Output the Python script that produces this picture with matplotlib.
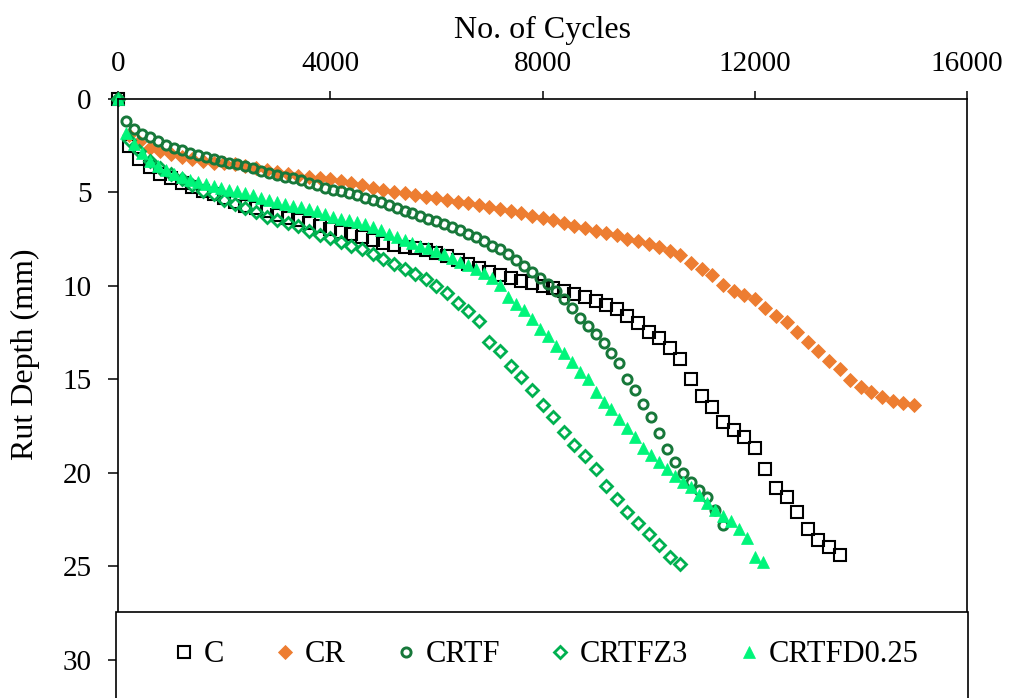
import matplotlib
matplotlib.use("Agg")
import matplotlib.pyplot as plt
from matplotlib.patches import Rectangle

plt.rcParams['font.family'] = ['Liberation Serif', 'DejaVu Serif']

# ---------------- data ----------------
series_names = ["C", "CR", "CRTF", "CRTFZ3", "CRTFD0.25"]

cycles_c = [0, 200, 400, 600, 800, 1000, 1200, 1400, 1600, 1800, 2000, 2200, 2400, 2600, 2800,
            3000, 3200, 3400, 3600, 3800, 4000, 4200, 4400, 4600, 4800, 5000, 5200, 5400, 5600,
            5800, 6000, 6200, 6400, 6600, 6800, 7000, 7200, 7400, 7600, 7800, 8000, 8200, 8400,
            8600, 8800, 9000, 9200, 9400, 9600, 9800, 10000, 10200, 10400, 10600, 10800, 11000,
            11200, 11400, 11600, 11800, 12000, 12200, 12400, 12600, 12800, 13000, 13200, 13400, 13600]
rut_c = [0, 2.5, 3.2, 3.65, 4.0, 4.25, 4.5, 4.7, 4.9, 5.1, 5.3, 5.5, 5.7, 5.85, 6.0,
         6.2, 6.35, 6.5, 6.65, 6.8, 6.95, 7.1, 7.25, 7.4, 7.55, 7.7, 7.8, 7.9, 8.0,
         8.1, 8.25, 8.4, 8.6, 8.85, 9.05, 9.25, 9.4, 9.6, 9.75, 9.85, 10.0, 10.1, 10.3,
         10.45, 10.6, 10.8, 11.0, 11.25, 11.6, 12.0, 12.45, 12.8, 13.3, 13.9, 15.0, 15.9,
         16.5, 17.3, 17.7, 18.1, 18.7, 19.8, 20.8, 21.3, 22.1, 23.0, 23.6, 24.0, 24.4]

cycles_cr = [0, 200, 400, 600, 800, 1000, 1200, 1400, 1600, 1800, 2000, 2200, 2400, 2600, 2800,
             3000, 3200, 3400, 3600, 3800, 4000, 4200, 4400, 4600, 4800, 5000, 5200, 5400, 5600,
             5800, 6000, 6200, 6400, 6600, 6800, 7000, 7200, 7400, 7600, 7800, 8000, 8200, 8400,
             8600, 8800, 9000, 9200, 9400, 9600, 9800, 10000, 10200, 10400, 10600, 10800, 11000,
             11200, 11400, 11600, 11800, 12000, 12200, 12400, 12600, 12800, 13000, 13200, 13400,
             13600, 13800, 14000, 14200, 14400, 14600, 14800, 15000]
rut_cr = [0, 1.9, 2.3, 2.6, 2.8, 2.95, 3.1, 3.2, 3.3, 3.4, 3.45, 3.5, 3.6, 3.7, 3.8,
          3.9, 4.0, 4.1, 4.15, 4.25, 4.3, 4.4, 4.5, 4.6, 4.75, 4.87, 4.97, 5.03, 5.13,
          5.24, 5.3, 5.4, 5.5, 5.56, 5.67, 5.78, 5.88, 5.99, 6.1, 6.25, 6.35, 6.5, 6.65,
          6.8, 6.9, 7.05, 7.15, 7.3, 7.5, 7.6, 7.75, 7.9, 8.15, 8.35, 8.75, 9.1,
          9.4, 9.95, 10.25, 10.5, 10.7, 11.2, 11.6, 11.95, 12.45, 13.0, 13.5, 14.0,
          14.45, 15.05, 15.4, 15.7, 15.95, 16.15, 16.25, 16.35]

cycles_crtf = [0, 150, 300, 450, 600, 750, 900, 1050, 1200, 1350, 1500, 1650, 1800, 1950, 2100,
               2250, 2400, 2550, 2700, 2850, 3000, 3150, 3300, 3450, 3600, 3750, 3900, 4050,
               4200, 4350, 4500, 4650, 4800, 4950, 5100, 5250, 5400, 5550, 5700, 5850, 6000,
               6150, 6300, 6450, 6600, 6750, 6900, 7050, 7200, 7350, 7500, 7650, 7800, 7950,
               8100, 8250, 8400, 8550, 8700, 8850, 9000, 9150, 9300, 9450, 9600, 9750, 9900,
               10050, 10200, 10350, 10500, 10650, 10800, 10950, 11100, 11250, 11400]
rut_crtf = [0, 1.2, 1.6, 1.85, 2.05, 2.25, 2.45, 2.6, 2.75, 2.9, 3.0, 3.1, 3.2, 3.3, 3.4,
            3.5, 3.6, 3.7, 3.85, 3.95, 4.05, 4.15, 4.25, 4.35, 4.5, 4.6, 4.75, 4.85,
            4.95, 5.05, 5.15, 5.3, 5.4, 5.5, 5.65, 5.85, 6.0, 6.1, 6.25, 6.4, 6.55,
            6.7, 6.85, 7.0, 7.2, 7.4, 7.6, 7.85, 8.05, 8.3, 8.6, 8.95, 9.25, 9.6,
            9.9, 10.25, 10.7, 11.2, 11.7, 12.15, 12.55, 13.05, 13.6, 14.15, 15.0, 15.6, 16.3,
            17.0, 17.9, 18.75, 19.4, 20.0, 20.5, 20.9, 21.3, 22.0, 22.8]

cycles_crtfz3 = [0, 200, 400, 600, 800, 1000, 1200, 1400, 1600, 1800, 2000, 2200, 2400, 2600,
                 2800, 3000, 3200, 3400, 3600, 3800, 4000, 4200, 4400, 4600, 4800, 5000, 5200,
                 5400, 5600, 5800, 6000, 6200, 6400, 6600, 6800, 7000, 7200, 7400, 7600, 7800,
                 8000, 8200, 8400, 8600, 8800, 9000, 9200, 9400, 9600, 9800, 10000, 10200,
                 10400, 10600]
rut_crtfz3 = [0, 2.2, 2.8, 3.3, 3.7, 4.0, 4.3, 4.6, 4.9, 5.1, 5.4, 5.6, 5.85, 6.05,
              6.3, 6.5, 6.65, 6.8, 7.05, 7.3, 7.45, 7.65, 7.85, 8.05, 8.3, 8.55, 8.85,
              9.1, 9.35, 9.65, 10.0, 10.4, 10.9, 11.35, 11.9, 13.0, 13.5, 14.3, 14.9, 15.6,
              16.4, 17.0, 17.8, 18.5, 19.1, 19.8, 20.7, 21.4, 22.1, 22.7, 23.3, 23.85,
              24.5, 24.9]

cycles_crtfd = [0, 150, 300, 450, 600, 750, 900, 1050, 1200, 1350, 1500, 1650, 1800, 1950, 2100,
                2250, 2400, 2550, 2700, 2850, 3000, 3150, 3300, 3450, 3600, 3750, 3900, 4050,
                4200, 4350, 4500, 4650, 4800, 4950, 5100, 5250, 5400, 5550, 5700, 5850, 6000,
                6150, 6300, 6450, 6600, 6750, 6900, 7050, 7200, 7350, 7500, 7650, 7800, 7950,
                8100, 8250, 8400, 8550, 8700, 8850, 9000, 9150, 9300, 9450, 9600, 9750, 9900,
                10050, 10200, 10350, 10500, 10650, 10800, 10950, 11100, 11250, 11400, 11550,
                11700, 11850, 12000, 12150]
rut_crtfd = [0, 1.8, 2.4, 2.9, 3.3, 3.6, 3.8, 4.0, 4.2, 4.35, 4.45, 4.55, 4.65, 4.75, 4.85,
             4.95, 5.05, 5.15, 5.3, 5.4, 5.5, 5.6, 5.7, 5.8, 5.9, 6.0, 6.15, 6.3,
             6.4, 6.5, 6.6, 6.7, 6.85, 7.0, 7.2, 7.4, 7.55, 7.7, 7.85, 8.0, 8.15,
             8.3, 8.5, 8.7, 8.9, 9.1, 9.3, 9.6, 9.95, 10.6, 10.95, 11.3, 11.8, 12.3,
             12.7, 13.2, 13.6, 14.05, 14.6, 15.0, 15.7, 16.2, 16.6, 17.1, 17.6, 18.1, 18.7,
             19.05, 19.45, 19.8, 20.2, 20.5, 20.75, 21.2, 21.6, 22.0, 22.3, 22.6,
             23.0, 23.5, 24.5, 24.8]

x_ticks = [0, 4000, 8000, 12000, 16000]
y_ticks = [0, 5, 10, 15, 20, 25, 30]

# ---------------- figure ----------------
W, H = 1013, 698
fig = plt.figure(figsize=(W / 100, H / 100), dpi=100)
ax = fig.add_axes([118 / W, 1 - 753 / H, (967 - 118) / W, (753 - 99) / H])

styles = [
    dict(marker='s', ms=8.3, mfc='none', mec='black', mew=1.5),
    dict(marker='D', ms=6.8, mfc='#ED7D31', mec='#ED7D31', mew=0.6),
    dict(marker='o', ms=6.6, mfc='none', mec='#17783A', mew=2.1),
    dict(marker='D', ms=5.8, mfc='none', mec='#00B050', mew=2.0),
    dict(marker='^', ms=9.0, mfc='#00F57A', mec='#00F57A', mew=0.5),
]
data = [(cycles_c, rut_c), (cycles_cr, rut_cr), (cycles_crtf, rut_crtf),
        (cycles_crtfz3, rut_crtfz3), (cycles_crtfd, rut_crtfd)]

handles = []
for (xs, ys), name, st in zip(data, series_names, styles):
    h, = ax.plot(xs, ys, linestyle='none', label=name, clip_on=False, **st)
    handles.append(h)

ax.set_xlim(0, 16000)
ax.set_ylim(35, 0)
ax.xaxis.tick_top()
ax.xaxis.set_label_position('top')
ax.set_xticks(x_ticks)
ax.set_yticks(y_ticks)
ax.tick_params(axis='x', direction='out', length=6, width=1.1, pad=10, labelsize=21)
ax.tick_params(axis='y', direction='out', length=7, width=1.1, pad=12, labelsize=21)
for sp in ax.spines.values():
    sp.set_linewidth(1.2)

ax.set_xlabel("No. of Cycles", fontsize=23)
ax.xaxis.set_label_coords(0.5, 1.093)
ax.set_ylabel("Rut Depth (mm)", fontsize=23)
ax.yaxis.set_label_coords(-0.092, 0.61)

# legend box (extends below the figure edge, as in the reference)
box = Rectangle((116 / W, -0.1), (968 - 116) / W, (1 - 612 / H) + 0.1,
                transform=fig.transFigure, facecolor='white', edgecolor='black',
                linewidth=1.2, zorder=3, clip_on=False)
fig.add_artist(box)

leg = fig.legend(handles=handles, labels=series_names, loc='center',
                 bbox_to_anchor=(546 / W, 1 - 655 / H), ncol=5, frameon=False,
                 fontsize=22, handlelength=0.7, handletextpad=0.3, columnspacing=1.62,
                 borderaxespad=0)
leg.set_zorder(5)

fig.savefig("out.png", dpi=100)
